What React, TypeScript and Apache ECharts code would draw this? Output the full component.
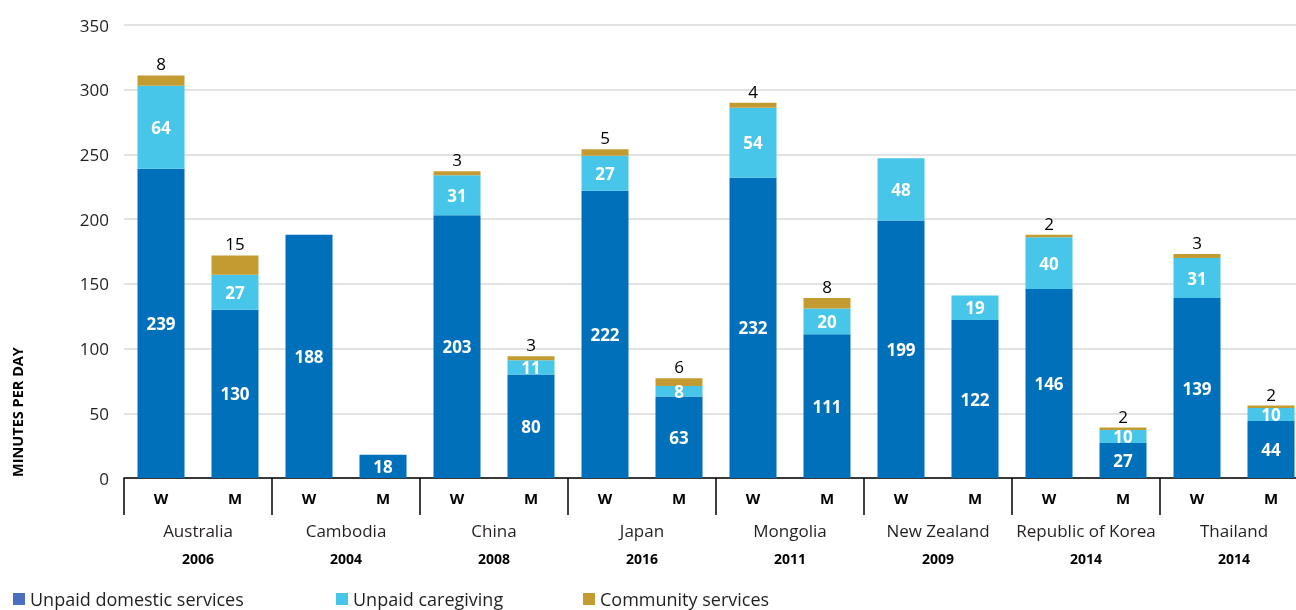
import React, { useEffect, useRef } from "react";
import * as echarts from "echarts";

const countries = ["Australia", "Cambodia", "China", "Japan", "Mongolia", "New Zealand", "Republic of Korea", "Thailand"];
const years = ["2006", "2004", "2008", "2016", "2011", "2009", "2014", "2014"];
const sexes = ["W", "M"];
// order: W, M per country
const domestic = [239, 130, 188, 18, 203, 80, 222, 63, 232, 111, 199, 122, 146, 27, 139, 44];
const caregiving: (number | null)[] = [64, 27, null, null, 31, 11, 27, 8, 54, 20, 48, 19, 40, 10, 31, 10];
const community: (number | null)[] = [8, 15, null, null, 3, 3, 5, 6, 4, 8, null, null, 2, 2, 3, 2];
const yTicks = { min: 0, max: 350, interval: 50 };

const FONT = "'Open Sans', 'Noto Sans', sans-serif";

export default function App() {
  const ref = useRef<HTMLDivElement>(null);
  useEffect(() => {
    if (!ref.current) return;
    const chart = echarts.init(ref.current, undefined, { renderer: "svg" });
    const cats16: string[] = [];
    countries.forEach(() => sexes.forEach((s) => cats16.push(s)));
    const inside = {
      show: true,
      position: "inside" as const,
      color: "#fff",
      fontWeight: "bold" as const,
      fontSize: 17,
      fontFamily: FONT,
    };
    const legendText = { fontSize: 18, color: "#231f20", fontFamily: FONT };
    chart.setOption({
      animation: false,
      textStyle: { fontFamily: FONT },
      grid: { left: 124, top: 25, right: 0, bottom: 132 },
      legend: [
        { left: 8, top: 585, itemWidth: 12, itemHeight: 12, icon: "rect", textStyle: legendText, data: [{ name: "Unpaid domestic services", itemStyle: { color: "#4a6fbe" } }] },
        { left: 331, top: 585, itemWidth: 12, itemHeight: 12, icon: "rect", textStyle: legendText, data: ["Unpaid caregiving"] },
        { left: 578, top: 585, itemWidth: 12, itemHeight: 12, icon: "rect", textStyle: legendText, data: ["Community services"] },
      ],
      xAxis: [
        {
          type: "category",
          data: cats16,
          position: "bottom",
          axisLine: { show: true, lineStyle: { color: "#000", width: 1.5 } },
          axisTick: { show: false },
          axisLabel: { interval: 0, margin: 12, fontSize: 15, fontWeight: "bold", color: "#000", fontFamily: FONT },
        },
        {
          type: "category",
          data: countries,
          position: "bottom",
          offset: 0,
          axisLine: { show: false },
          axisTick: { show: true, length: 37, interval: 0, lineStyle: { color: "#000", width: 1.5 } },
          axisLabel: {
            interval: 0,
            margin: 38,
            formatter: (v: string, i: number) => `{n|${v}}\n{y|${years[i]}}`,
            rich: {
              n: { fontSize: 17, color: "#231f20", lineHeight: 28, fontFamily: FONT },
              y: { fontSize: 14, fontWeight: "bold", color: "#000", lineHeight: 28, fontFamily: FONT },
            },
          },
        },
      ],
      yAxis: {
        type: "value",
        min: yTicks.min,
        max: yTicks.max,
        interval: yTicks.interval,
        axisLine: { show: false },
        axisTick: { show: false },
        axisLabel: { fontSize: 17, color: "#231f20", margin: 15, fontFamily: FONT },
        splitLine: { lineStyle: { color: "#d9d9d9", width: 1.5 } },
      },
      graphic: [
        {
          type: "text",
          x: 17,
          y: 412,
          rotation: Math.PI / 2,
          style: { text: "MINUTES PER DAY", fontSize: 14.5, fontWeight: "bold", fill: "#000", align: "center", verticalAlign: "middle", fontFamily: FONT },
        },
      ],
      series: [
        {
          name: "Unpaid domestic services",
          type: "bar",
          stack: "t",
          barWidth: 47,
          data: domestic,
          itemStyle: { color: "#0070ba" },
          label: inside,
        },
        {
          name: "Unpaid caregiving",
          type: "bar",
          stack: "t",
          barWidth: 47,
          data: caregiving.map((v) => (v == null ? "-" : v)),
          itemStyle: { color: "#48c6ea" },
          label: inside,
        },
        {
          name: "Community services",
          type: "bar",
          stack: "t",
          barWidth: 47,
          data: community.map((v) => (v == null ? "-" : v)),
          itemStyle: { color: "#c39b31" },
          label: { show: true, position: "top", distance: 3, color: "#000", fontSize: 17, fontFamily: FONT },
        },
      ],
    });
    return () => chart.dispose();
  }, []);
  return (
    <div style={{ position: "fixed", left: 0, top: 0, width: 1296, height: 610, overflow: "hidden" }}>
      <div ref={ref} style={{ width: 1308, height: 610 }} />
    </div>
  );
}
